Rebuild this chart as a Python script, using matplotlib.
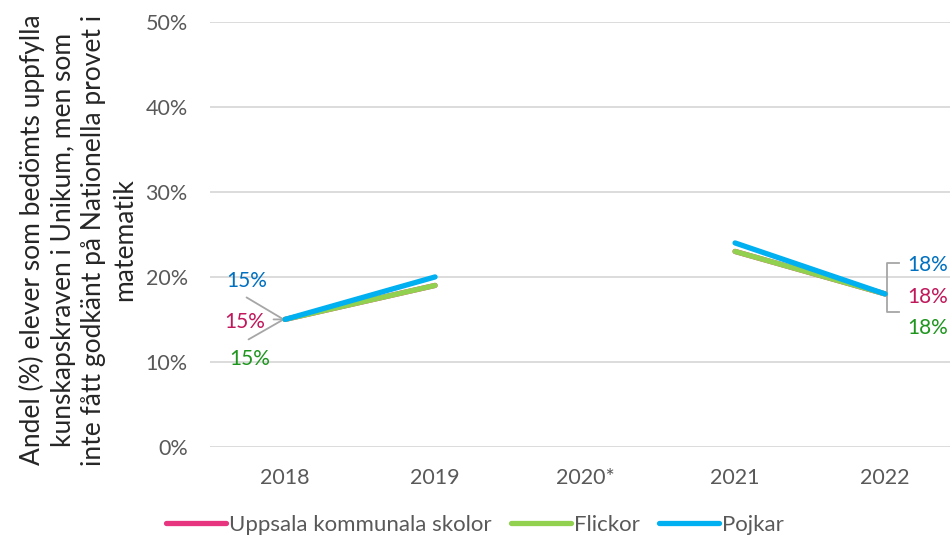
import matplotlib
matplotlib.use("Agg")
import matplotlib.pyplot as plt
import numpy as np

years = ["2018", "2019", "2020*", "2021", "2022"]
uppsala = [15, 19, np.nan, 23, 18]
flickor = [15, 19, np.nan, 23, 18]
pojkar = [15, 20, np.nan, 24, 18]
yticks = [0, 10, 20, 30, 40, 50]

c_pink, c_green, c_blue = "#E8357F", "#92D050", "#00B0F0"
t_pink, t_green, t_blue = "#C0185B", "#1E961E", "#0070C0"
grey = "#595959"

plt.rcParams["font.family"] = ["Lato", "DejaVu Sans"]

fig = plt.figure(figsize=(9.5, 5.43), dpi=100)
ax = fig.add_axes([0.2211, 0.177, 0.7895, 0.7825])

x = np.arange(len(years))
lw = 3.8
ax.plot(x, uppsala, color=c_pink, lw=lw, solid_capstyle="round", label="Uppsala kommunala skolor", zorder=3)
ax.plot(x, flickor, color=c_green, lw=lw, solid_capstyle="round", label="Flickor", zorder=4)
ax.plot(x, pojkar, color=c_blue, lw=lw, solid_capstyle="round", label="Pojkar", zorder=5)

ax.set_xlim(-0.5, len(years) - 0.5)
ax.set_ylim(0, 50)
ax.set_yticks(yticks)
ax.set_yticklabels([f"{v}%" for v in yticks])
ax.set_xticks(x)
ax.set_xticklabels(years)
ax.tick_params(length=0, colors=grey, labelsize=15.5)
ax.tick_params(axis="x", pad=15)
ax.tick_params(axis="y", pad=16)
ax.grid(axis="y", color="#D9D9D9", lw=1.3)
ax.set_axisbelow(True)
for s in ax.spines.values():
    s.set_visible(False)

# data labels at 2018 with leader lines
lc = "#A6A6A6"
i = 0
for val, col, (dx, dy), (lx, ly) in [
    (pojkar[i], t_blue, (-38, 38), (-37, 22)),
    (uppsala[i], t_pink, (-40, -3), (-10, 0)),
    (flickor[i], t_green, (-35, -40), (-35, -20)),
]:
    ax.annotate(f"{val:.0f}%", (x[i], val), xytext=(dx, dy), textcoords="offset pixels",
                ha="center", va="center", color=col, fontsize=15)
    ax.annotate("", (x[i] - 0.01, val), xytext=(lx, ly), textcoords="offset pixels",
                arrowprops=dict(arrowstyle="-", color=lc, lw=1.3, shrinkA=0, shrinkB=0))

# data labels at 2022 with bracket
i = 4
for val, col, dy in [(pojkar[i], t_blue, 29), (uppsala[i], t_pink, -3), (flickor[i], t_green, -34)]:
    ax.annotate(f"{val:.0f}%", (x[i], val), xytext=(43, dy), textcoords="offset pixels",
                ha="center", va="center", color=col, fontsize=15)
bx = [14, 2, 2, 14]
by = [31, 31, -18, -18]
pts = ax.transData.transform((x[i], pojkar[i]))
inv = ax.transData.inverted()
br = inv.transform(np.column_stack([pts[0] + np.array(bx), pts[1] + np.array(by)]))
ax.plot(br[:, 0], br[:, 1], color=lc, lw=1.3, zorder=2)

fig.text(0.082, 0.558,
         "Andel (%) elever som bedömts uppfylla\nkunskapskraven i Unikum, men som\n"
         "inte fått godkänt på Nationella provet i\nmatematik",
         rotation=90, ha="center", va="center", multialignment="center",
         fontsize=19, color="#262626", linespacing=1.28)

leg = fig.legend(loc="lower center", bbox_to_anchor=(0.5, -0.022), ncol=3, frameon=False,
                 fontsize=16, handlelength=2.7, handletextpad=0.1, columnspacing=0.9)
for t in leg.get_texts():
    t.set_color(grey)

fig.savefig("out.png", dpi=100)
